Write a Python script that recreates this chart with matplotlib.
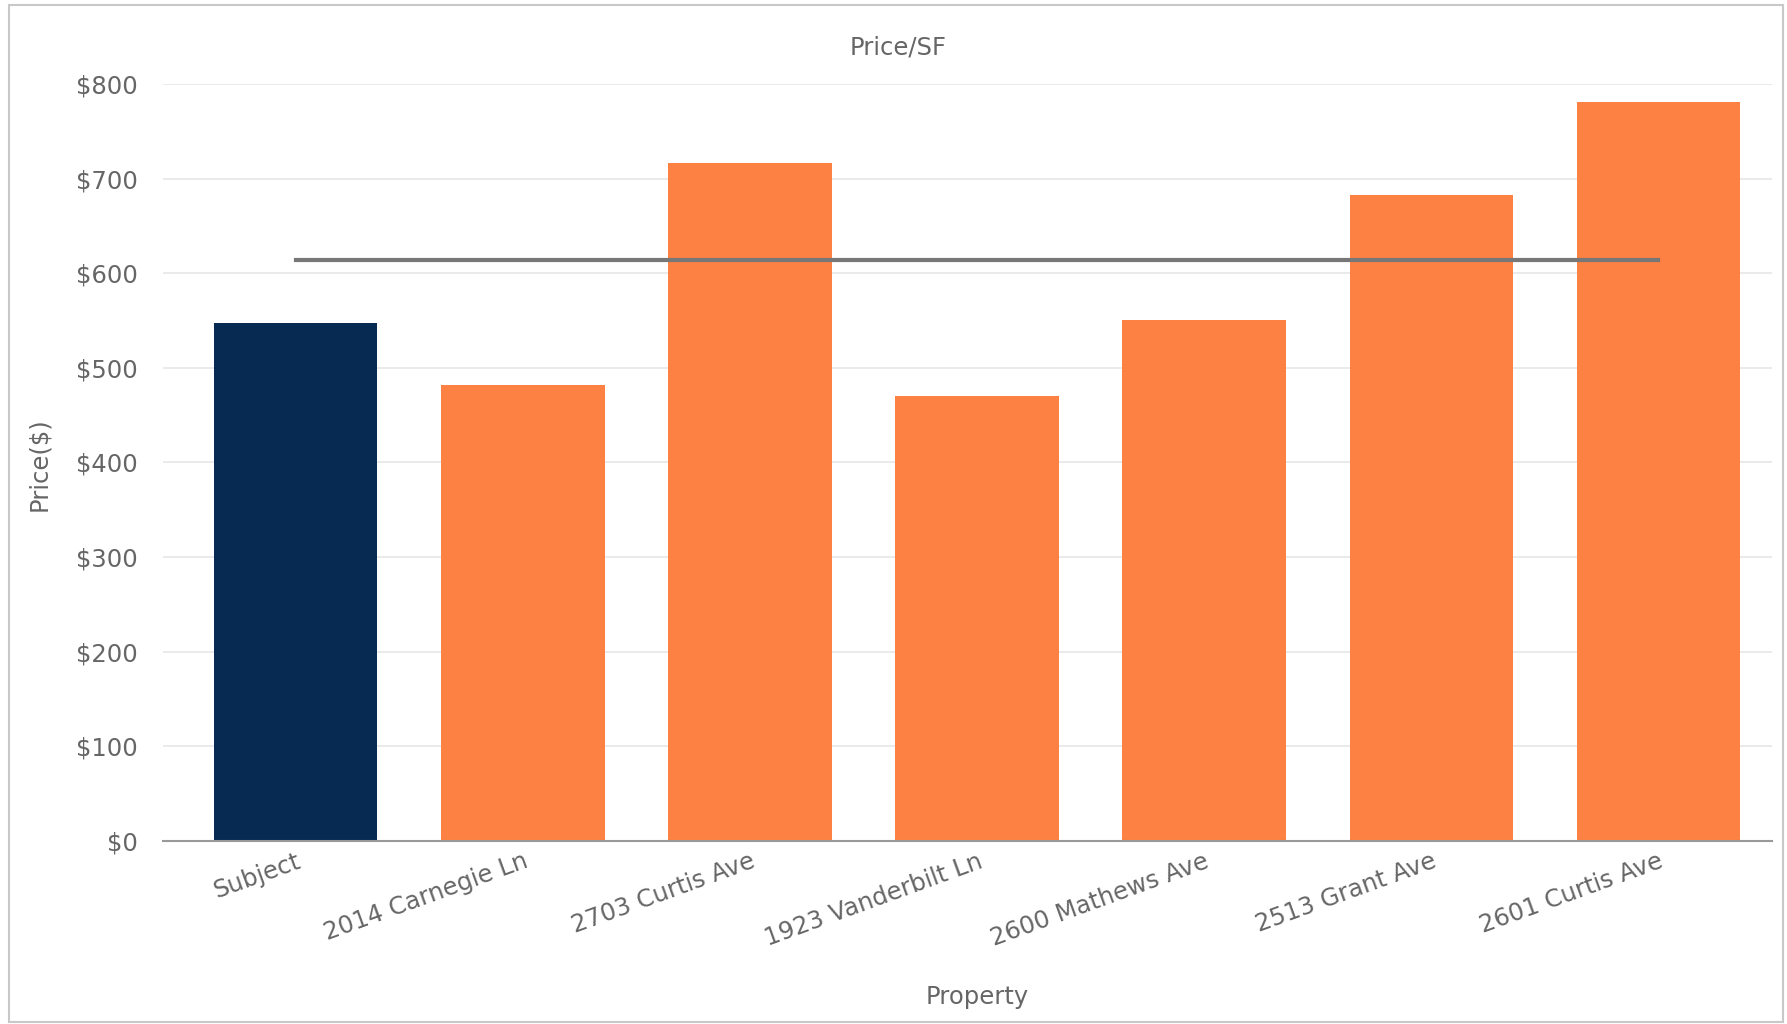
from matplotlib import pyplot as plt
from matplotlib.patches import Rectangle

# values
properties = ['Subject', '2014 Carnegie Ln', '2703 Curtis Ave', '1923 Vanderbilt Ln',
              '2600 Mathews Ave', '2513 Grant Ave', '2601 Curtis Ave']
price_sf = [547, 482, 716, 470, 551, 683, 781]
comp_avg = 614
y_ticks = [0, 100, 200, 300, 400, 500, 600, 700, 800]

navy = '#072a52'
orange = '#fd8142'
text_col = '#666666'

plt.rcParams['font.family'] = ['DejaVu Sans']

fig = plt.figure(figsize=(17.87, 10.24), dpi=100)
ax = fig.add_axes([0.0912, 0.1787, 0.9004, 0.7393])

colors = [navy] + [orange] * (len(properties) - 1)
x = list(range(len(properties)))
ax.bar(x, price_sf, width=0.72, color=colors, zorder=2)

# average of the comps as a flat line across the categories
ax.plot(x, [comp_avg] * len(x), color='#777777', linewidth=3, zorder=3)

ax.set_ylim(0, 800)
ax.set_xlim(-0.584, 6.5)
ax.set_yticks(y_ticks)
ax.set_yticklabels(['${}'.format(v) for v in y_ticks])
ax.set_xticks(x)
ax.set_xticklabels(properties, rotation=20, ha='right', rotation_mode='anchor')

ax.grid(axis='y', color='#e6e6e6', linewidth=1.2, zorder=0)
ax.set_axisbelow(True)
for side in ['top', 'right', 'left']:
    ax.spines[side].set_visible(False)
ax.spines['bottom'].set_color('#999999')
ax.spines['bottom'].set_linewidth(1.5)
ax.tick_params(axis='both', length=0, colors=text_col, labelsize=17.5)
ax.tick_params(axis='y', pad=18)
ax.tick_params(axis='x', pad=6)

fig.text(0.5025, 0.954, 'Price/SF', ha='center', va='center', fontsize=17.5, color=text_col)
fig.text(0.547, 0.026, 'Property', ha='center', va='center', fontsize=17.5, color=text_col)
fig.text(0.022, 0.547, 'Price($)', ha='center', va='center', rotation=90, fontsize=17.5, color=text_col)

# light border around the whole chart
fig.patches.append(Rectangle((0.005, 0.002), 0.993, 0.993, transform=fig.transFigure,
                             fill=False, edgecolor='#c8c8c8', linewidth=1.5))

plt.savefig('out.png', dpi=100)
